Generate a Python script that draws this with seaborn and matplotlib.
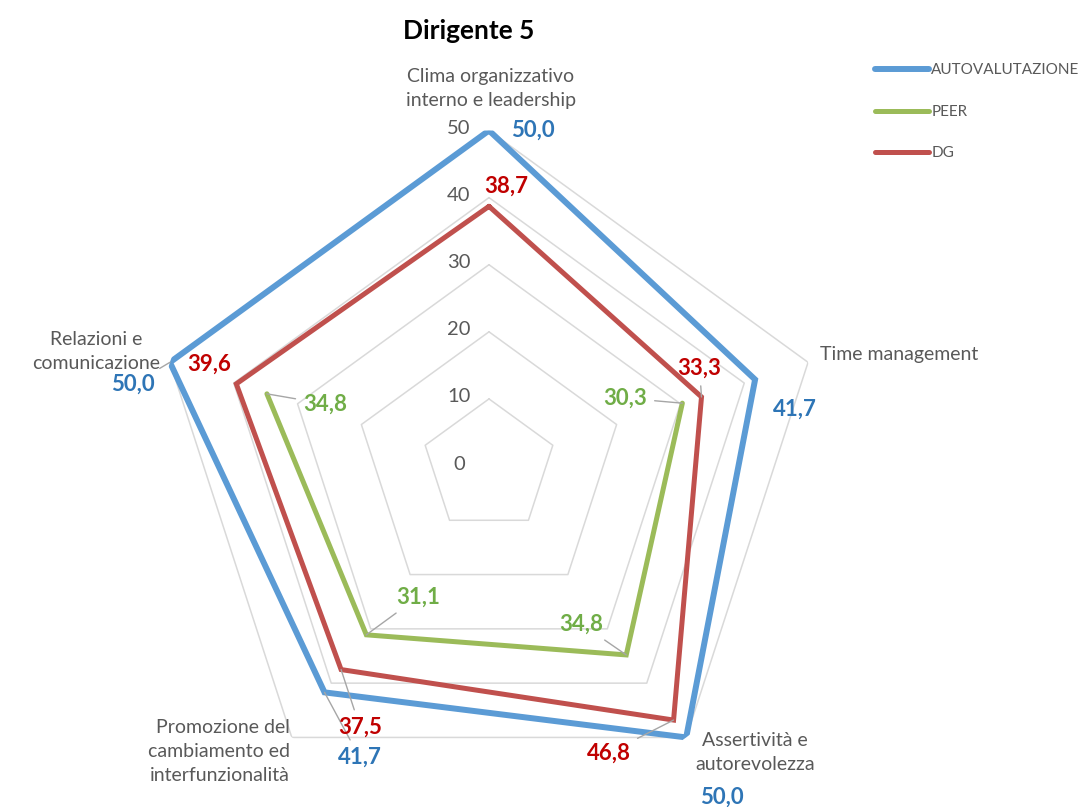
import numpy as np
import pandas as pd
import seaborn as sns
import matplotlib.pyplot as plt

# dati
categorie = ['Clima organizzativo\ninterno e leadership', 'Time management',
             'Assertività e\nautorevolezza',
             'Promozione del\ncambiamento ed\ninterfunzionalità',
             'Relazioni e\ncomunicazione']
autovalutazione = [50.0, 41.7, 50.0, 41.7, 50.0]
peer = [np.nan, 30.3, 34.8, 31.1, 34.8]
dg = [38.7, 33.3, 46.8, 37.5, 39.6]
livelli = [0, 10, 20, 30, 40, 50]

sns.set_theme(style='white')
plt.rcParams['font.family'] = ['Lato', 'DejaVu Sans']

n = len(categorie)
theta = np.arange(n) * 2 * np.pi / n
theta_chiuso = np.append(theta, theta[0] + 2 * np.pi)

fig = plt.figure(figsize=(10.84, 8.07), dpi=100)
ax = fig.add_axes([0.1416, 0.0068, 0.619, 0.8315], projection='polar')
ax.set_theta_offset(np.pi / 2)
ax.set_theta_direction(-1)
ax.grid(False)
ax.spines['polar'].set_visible(False)
ax.set_xticks([])
ax.set_yticks([])
ax.set_ylim(0, 50)

# griglia pentagonale (senza raggi)
griglia = '#D9D9D9'
for v in livelli[1:]:
    ax.plot(theta_chiuso, [v] * (n + 1), color=griglia, lw=1.1, zorder=1)

serie = [('AUTOVALUTAZIONE', autovalutazione, '#5B9BD5', 4.3),
         ('PEER', peer, '#9BBB59', 3.6),
         ('DG', dg, '#C0504D', 3.6)]
for nome, valori, colore, lw in serie:
    v = np.append(valori, valori[0])
    df = pd.DataFrame({'theta': theta_chiuso, 'valore': v}).dropna()
    sns.lineplot(data=df, x='theta', y='valore', ax=ax, sort=False, estimator=None,
                 color=colore, lw=lw, label=nome, zorder=3,
                 solid_joinstyle='miter', solid_capstyle='round')
ax.set_xlabel('')
ax.set_ylabel('')
ax.get_legend().remove()

grigio = '#595959'
# etichette assi radiali
for v in livelli:
    ax.annotate(str(v), xy=(0, v), xytext=(-30, 2), textcoords='offset pixels',
                ha='center', va='center', fontsize=14.5, color=grigio)

# etichette categorie
pos_cat = [((2, 42), 'center', 'center'), ((12, 8), 'left', 'center'),
           ((69, -15), 'center', 'center'), ((-2, -14), 'right', 'center'),
           ((-74, 11), 'center', 'center')]
for t, testo, (off, ha, va) in zip(theta, categorie, pos_cat):
    ax.annotate(testo, xy=(t, 50), xytext=off, textcoords='offset pixels',
                ha=ha, va=va, fontsize=14, color=grigio, linespacing=1.5,
                multialignment=ha if ha != 'center' else 'center')

# etichette valori
leader = dict(arrowstyle='-', color='#A6A6A6', lw=1, shrinkA=3, shrinkB=0)
off_val = {
    'AUTOVALUTAZIONE': [(44, 0), (40, -30), (36, -60), (35, -65), (-37, -22)],
    'PEER': [None, (-57, 5), (-45, 31), (52, 38), (58, -10)],
    'DG': [(17, 20), (-2, 29), (-65, -33), (19, -58), (-27, 20)],
}
con_leader = {
    'AUTOVALUTAZIONE': [False, False, False, True, True],
    'PEER': [False, True, True, True, True],
    'DG': [False, True, True, True, False],
}
col_testo = {'AUTOVALUTAZIONE': '#2E75B6', 'PEER': '#70AD47', 'DG': '#C00000'}
for nome, valori, colore, lw in serie:
    for i, (t, v) in enumerate(zip(theta, valori)):
        if np.isnan(v):
            continue
        ax.annotate(f'{v:.1f}'.replace('.', ','), xy=(t, v),
                    xytext=off_val[nome][i], textcoords='offset pixels',
                    ha='center', va='center', fontsize=16, fontweight='bold',
                    color=col_testo[nome], zorder=4,
                    arrowprops=leader if con_leader[nome][i] else None)

fig.text(0.432, 0.962, 'Dirigente 5', ha='center', va='center',
         fontsize=19, fontweight='bold', color='black')

handles, labels = ax.get_legend_handles_labels()
fig.legend(handles, labels, loc='upper left', bbox_to_anchor=(0.802, 0.929),
           frameon=False, fontsize=11, labelcolor=grigio, handlelength=3.5,
           handletextpad=0.15, labelspacing=1.8, borderaxespad=0)

fig.savefig('out.png', dpi=100)
